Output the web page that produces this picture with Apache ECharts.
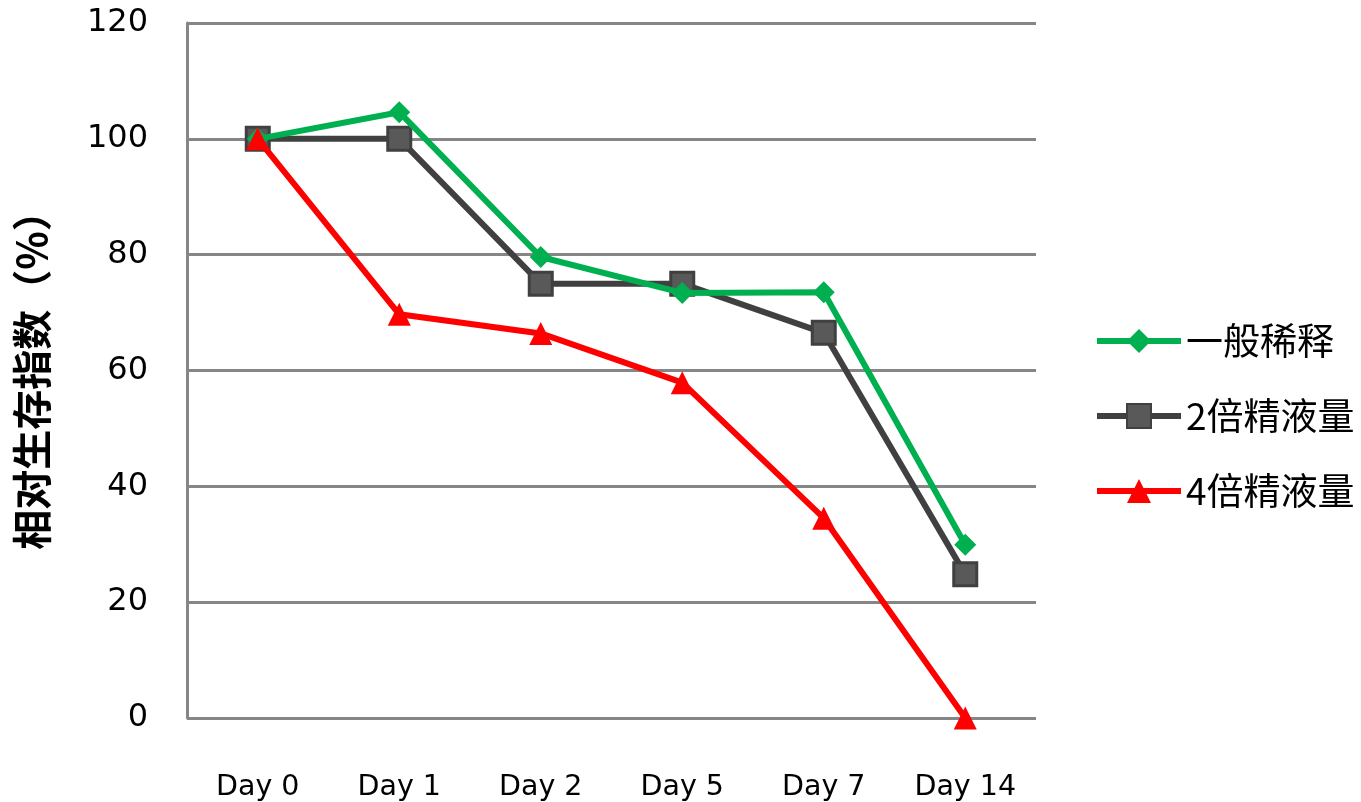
<!DOCTYPE html>
<html>
<head>
<meta charset="utf-8">
<script src="https://cdn.jsdelivr.net/npm/echarts@6/dist/echarts.min.js"></script>
<style>
  html, body { margin: 0; padding: 0; background: #fff; }
  #chart { width: 1361px; height: 802px; }
</style>
</head>
<body>
<div id="chart"></div>
<script>
// 数据
const days = ['Day 0', 'Day 1', 'Day 2', 'Day 5', 'Day 7', 'Day 14']
const normalDilution = [100, 104.6, 79.6, 73.4, 73.5, 29.9]
const double = [100, 100, 75, 75, 66.5, 24.8]
const quadruple = [100, 69.7, 66.4, 57.9, 34.5, 0]

const gridColor = '#868686'
const fontLatin = '"DejaVu Sans", "Noto Sans CJK SC", sans-serif'
const fontCJK = '"Noto Sans CJK SC", "DejaVu Sans", sans-serif'

const chart = echarts.init(document.getElementById('chart'))

chart.setOption({
  backgroundColor: '#fff',
  animation: false,
  grid: {
    left: 187,
    right: 325,
    top: 23,
    bottom: 84
  },
  legend: {
    orient: 'vertical',
    left: 1089,
    top: 315,
    itemWidth: 84,
    itemHeight: 30,
    itemGap: 33,
    lineStyle: { width: 6 },
    textStyle: {
      fontFamily: fontCJK,
      fontSize: 37,
      lineHeight: 42,
      color: '#000'
    },
    selectedMode: false
  },
  xAxis: {
    type: 'category',
    data: days,
    boundaryGap: true,
    axisLine: { show: false },
    axisTick: { show: false },
    splitLine: { show: false },
    axisLabel: {
      margin: 55,
      fontFamily: fontLatin,
      fontSize: 28.5,
      color: '#000'
    }
  },
  yAxis: {
    type: 'value',
    min: 0,
    max: 120,
    interval: 20,
    name: '相对生存指数（%）',
    nameLocation: 'middle',
    nameGap: 135,
    nameTextStyle: {
      fontFamily: fontCJK,
      fontSize: 40,
      fontWeight: 'bold',
      color: '#000'
    },
    axisLine: {
      show: true,
      lineStyle: { color: gridColor, width: 3 }
    },
    axisTick: { show: false },
    axisLabel: {
      margin: 39,
      fontFamily: fontLatin,
      fontSize: 32,
      color: '#000'
    },
    splitLine: {
      lineStyle: { color: gridColor, width: 3 }
    }
  },
  series: [
    {
      name: '一般稀释',
      type: 'line',
      data: normalDilution,
      symbol: 'diamond',
      symbolSize: 22,
      z: 3,
      lineStyle: { color: '#00B050', width: 6 },
      itemStyle: { color: '#00B050' }
    },
    {
      name: '2倍精液量',
      type: 'line',
      data: double,
      symbol: 'rect',
      symbolSize: 23,
      z: 2,
      lineStyle: { color: '#404040', width: 6 },
      itemStyle: { color: '#595959', borderColor: '#404040', borderWidth: 3 }
    },
    {
      name: '4倍精液量',
      type: 'line',
      data: quadruple,
      symbol: 'triangle',
      symbolSize: 23,
      z: 4,
      lineStyle: { color: '#FF0000', width: 6 },
      itemStyle: { color: '#FF0000' }
    }
  ]
})
</script>
</body>
</html>
